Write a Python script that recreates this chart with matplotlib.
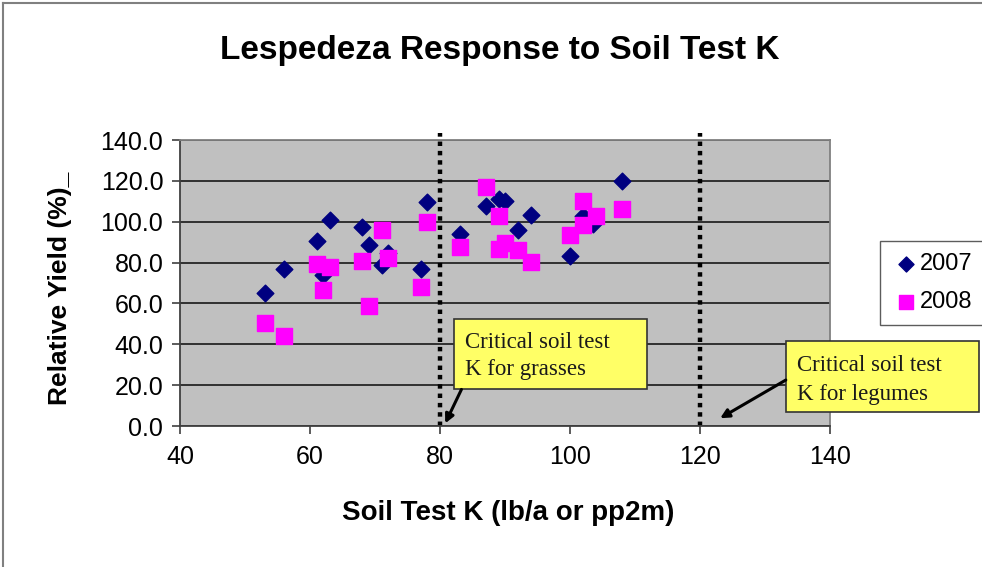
import matplotlib.pyplot as plt
from matplotlib.lines import Line2D
from matplotlib.patches import Rectangle

plt.rcParams['font.family'] = ['Liberation Sans', 'DejaVu Sans']

# Data
k_2007 = [53, 56, 61, 62, 63, 68, 69, 71, 72, 77, 78,
          83, 87, 89, 90, 92, 94, 100, 102, 103.5, 108]
yield_2007 = [65, 77, 90.5, 74, 101, 97.5, 88.5, 79, 84.5, 77, 109.5,
              94, 107.5, 111, 110, 96, 103.5, 83, 103, 99, 120]

k_2008 = [53, 56, 61, 63, 62, 68, 71, 72, 69, 78, 77,
          83, 87, 89, 89, 90, 92, 94, 100, 102, 102, 104, 108]
yield_2008 = [50.5, 44, 79.5, 78, 66.5, 81, 96, 82, 58.5, 100, 68,
              87.5, 117, 103, 86.5, 89.5, 86, 80.5, 93.5, 110, 98.5, 103, 106]

critical_k = [80, 120]
notes = ["Critical soil test\nK for grasses", "Critical soil test\nK for legumes"]

W, H = 982, 567
fig = plt.figure(figsize=(W / 100, H / 100), dpi=100)
ax = fig.add_axes([180/W, 1 - 426/H, 650/W, 286/H])
ax.set_facecolor('#c0c0c0')

ax.scatter(k_2007, yield_2007, marker='D', s=72, color='#000080', label='2007', zorder=3)
ax.scatter(k_2008, yield_2008, marker='s', s=118, color='#ff00ff', label='2008', zorder=4)

# dotted critical level lines (poke a bit above the plot top like the original)
ax.vlines(critical_k, 0, 143.5, color='black', lw=3.2, linestyles=(0, (1, 1.1)),
          zorder=2, clip_on=False)

ax.set_xlim(40, 140)
ax.set_ylim(0, 140)
ax.set_xticks(range(40, 141, 20))
ax.set_yticks(range(0, 141, 20))
ax.set_yticklabels([f"{v:.1f}" for v in range(0, 141, 20)])
ax.yaxis.grid(True, color='#262626', lw=1.3)
ax.set_axisbelow(True)
ax.tick_params(labelsize=18, color='#404040', length=6, width=1.2, pad=6)
ax.tick_params(axis='x', pad=8)
for s in ax.spines.values():
    s.set_color('#808080')
    s.set_linewidth(1.3)
ax.spines['left'].set_color('#404040')
ax.spines['bottom'].set_color('#404040')

fig.text(508/W, 1 - 513/H, 'Soil Test K (lb/a or pp2m)', ha='center', va='center',
         fontsize=20, fontweight='bold')
fig.text(60/W, 1 - 288/H, 'Relative Yield (%)_', ha='center', va='center',
         fontsize=19, fontweight='bold', rotation=90)
fig.text(500/W, 1 - 50/H, 'Lespedeza Response to Soil Test K', ha='center', va='center',
         fontsize=24, fontweight='bold')

# Note boxes and arrows
ax.add_patch(Rectangle((82.2, 18.0), 29.6, 34.2, facecolor='#ffff66', edgecolor='#333333',
                       lw=1.2, zorder=5, clip_on=False))
ax.add_patch(Rectangle((133.3, 7.0), 29.6, 34.6, facecolor='#ffff66', edgecolor='#333333',
                       lw=1.2, zorder=5, clip_on=False))
ax.text(83.9, 34.3, notes[0], ha='left', va='center', fontsize=16.5, color='#1a1a1a',
        family='Liberation Serif', linespacing=1.33, zorder=6)
ax.text(134.9, 22.5, notes[1], ha='left', va='center', fontsize=16.5, color='#1a1a1a',
        family='Liberation Serif', linespacing=1.55, zorder=6, clip_on=False)
ax.annotate('', xy=(80.8, 1.3), xytext=(83.3, 17.9), annotation_clip=False,
            arrowprops=dict(arrowstyle='-|>', color='black', lw=2.2, mutation_scale=13,
                            shrinkA=0, shrinkB=0), zorder=6)
ax.annotate('', xy=(123.1, 3.8), xytext=(133.2, 22.5), annotation_clip=False,
            arrowprops=dict(arrowstyle='-|>', color='black', lw=2.2, mutation_scale=13,
                            shrinkA=0, shrinkB=0), zorder=6)

fig.legend(loc='center left', bbox_to_anchor=(880/W, 1 - 283/H), fontsize=17,
           frameon=True, fancybox=False, edgecolor='#333333', handletextpad=0.0,
           handlelength=1.2, borderpad=0.5, labelspacing=0.7, borderaxespad=0,
           markerscale=0.9)

# Outer frame of the chart
fig.add_artist(Line2D([3/W, 1], [1 - 3/H, 1 - 3/H], color='#808080', lw=1.5))
fig.add_artist(Line2D([3/W, 3/W], [0, 1 - 3/H], color='#808080', lw=1.5))

fig.savefig('out.png', dpi=100)
